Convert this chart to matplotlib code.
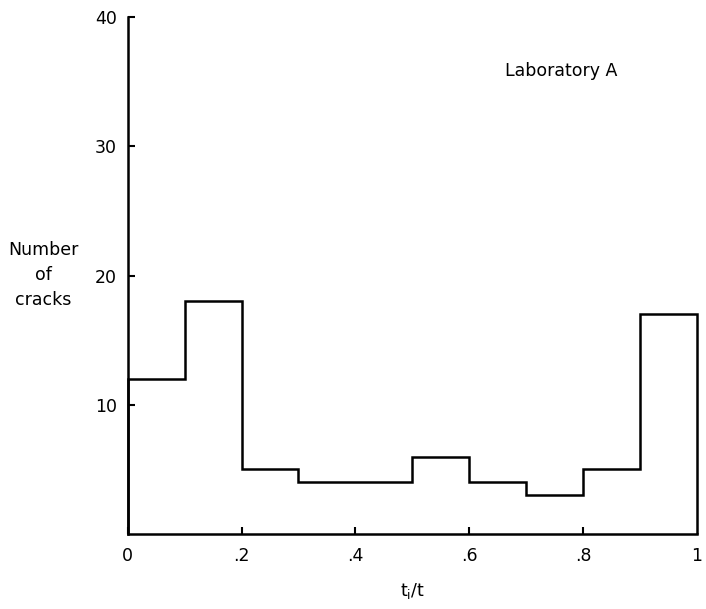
import numpy as np
import matplotlib
matplotlib.use("Agg")
import matplotlib.pyplot as plt

# histogram of crack initiation times, Laboratory A
bin_edges = [0.0, 0.1, 0.2, 0.3, 0.4, 0.5, 0.6, 0.7, 0.8, 0.9, 1.0]
num_cracks = [12, 18, 5, 4, 4, 6, 4, 3, 5, 17]

x_ticks = [0, 0.2, 0.4, 0.6, 0.8]
x_labels = ["0", ".2", ".4", ".6", ".8"]
y_ticks = [10, 20, 30, 40]
y_labels = ["10", "20", "30", "40"]

plt.rcParams['font.family'] = ['DejaVu Sans']

fig = plt.figure(figsize=(7.06, 6.09), dpi=100)
ax = fig.add_axes([0.181, 0.123, 0.806, 0.849])

ax.stairs(num_cracks, bin_edges, baseline=0, color='black', linewidth=1.8,
          clip_on=False)

ax.set_xlim(0, 1)
ax.set_ylim(0, 40)
ax.spines['top'].set_visible(False)
ax.spines['right'].set_visible(False)
ax.spines['left'].set_linewidth(1.8)
ax.spines['bottom'].set_linewidth(1.8)

ax.set_xticks(x_ticks)
ax.set_xticklabels(x_labels)
ax.set_yticks(y_ticks)
ax.set_yticklabels(y_labels)
ax.tick_params(direction='in', length=5, width=1.5, labelsize=12.5, pad=8)
ax.tick_params(axis='x', pad=9)
# "1" at the right end, no tick mark there
ax.text(1.0, -0.025, "1", transform=ax.transAxes, ha='center', va='top',
        fontsize=12.5)

ax.set_xlabel("t$_\\mathregular{i}$/t", fontsize=12.5, labelpad=12)
fig.text(0.061, 0.548, "Number\nof\ncracks", ha='center', va='center',
         fontsize=12.5, linespacing=1.5)
ax.text(0.663, 0.895, "Laboratory A", transform=ax.transAxes,
        fontsize=12.5, ha='left', va='center')

fig.savefig("out.png", dpi=100)
